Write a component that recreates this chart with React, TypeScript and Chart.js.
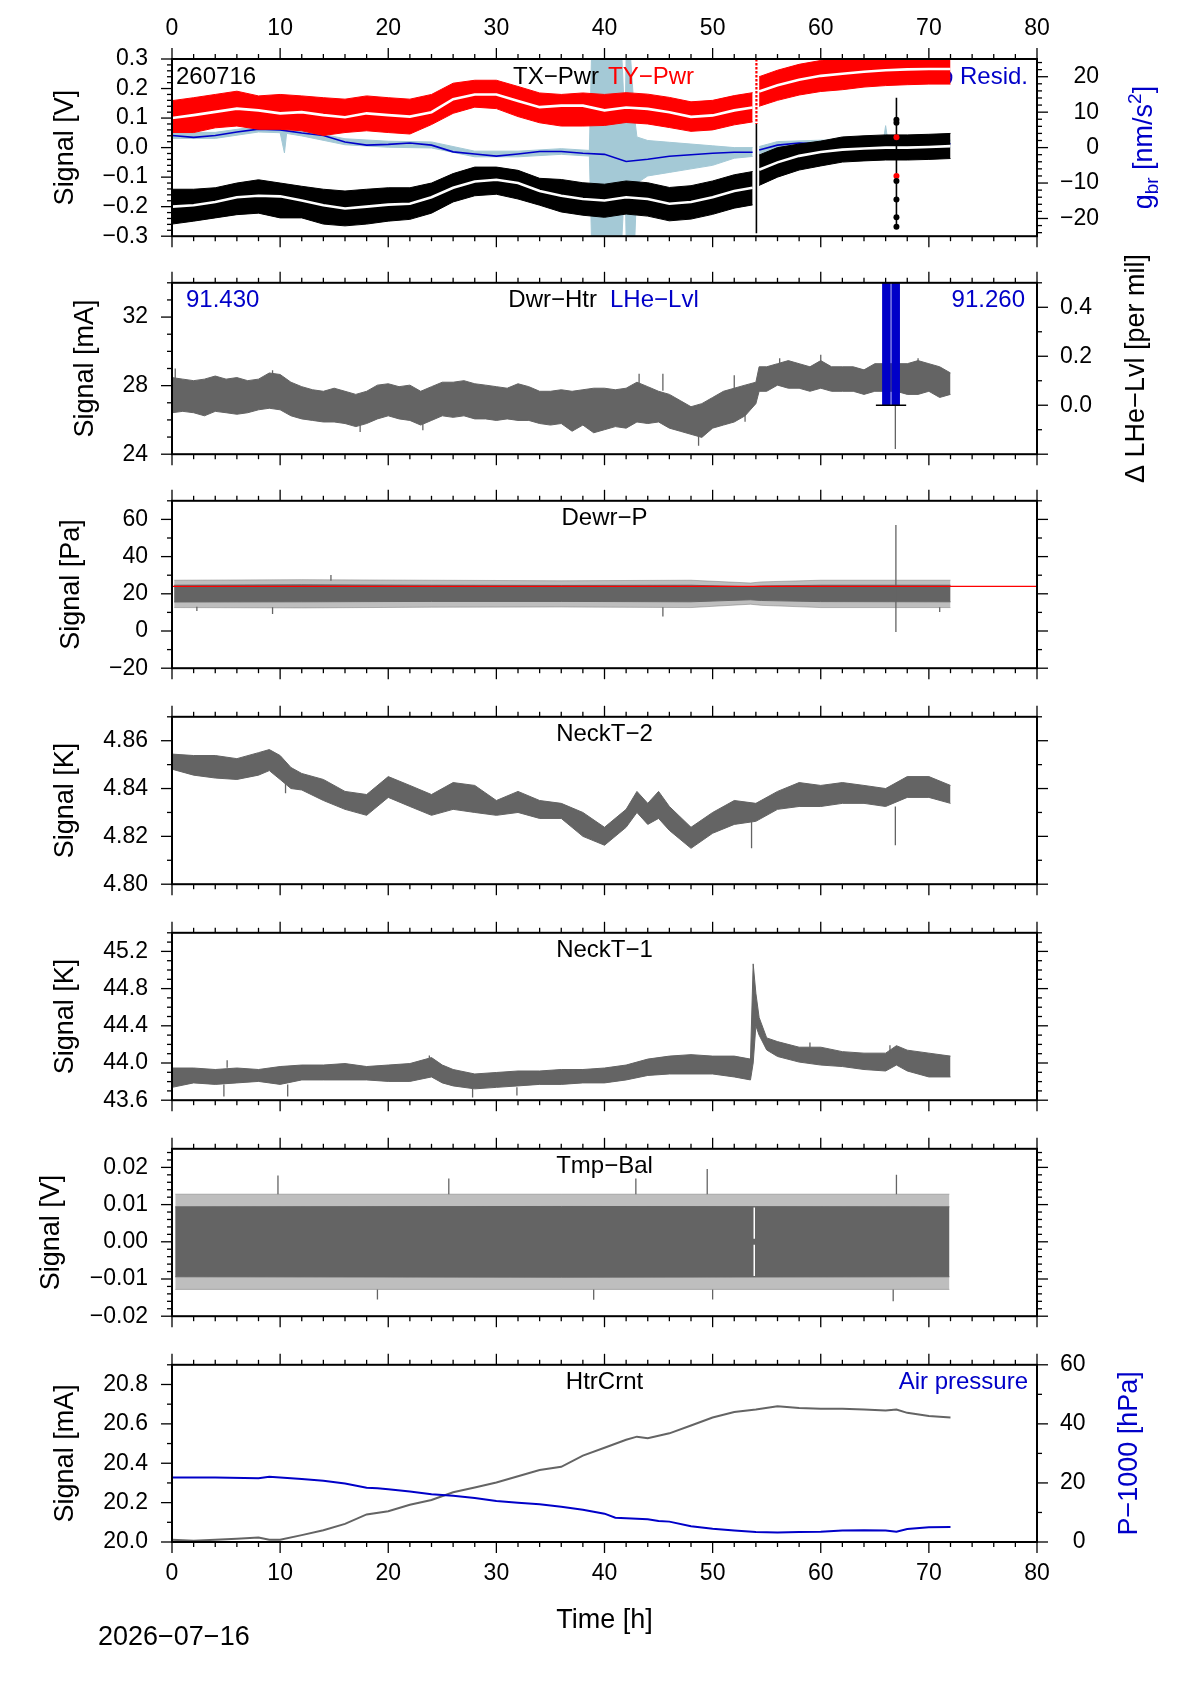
import React, { useEffect, useRef } from "react"
import Chart from "chart.js/auto"

const FONT = "'Liberation Sans', Arial, Helvetica, sans-serif"
Chart.defaults.font.family = FONT
Chart.defaults.color = "#000"

// page geometry (px)
const PAGE_W = 1190
const PAGE_H = 1684
const PLOT_L = 172
const PLOT_R = 1037
const PANEL_T0 = 59
const PANEL_STEP = 216
const PANEL_H = 187
const TICK_FONT = 23
const LABEL_FONT = 24
const TITLE_FONT = 27

const GRAY = "rgb(100,100,100)"
const GRAY_SOFT = "rgba(100,100,100,0.42)"
const BLUE = "rgb(0,0,200)"
const LIGHTBLUE = "rgb(164,201,214)"
const RED = "rgb(255,0,0)"
const MINUS = "\u2212"

// ---------- axis ticks ----------
const timeTicks = [0, 10, 20, 30, 40, 50, 60, 70, 80]
const p1LeftTicks = [-0.3, -0.2, -0.1, 0, 0.1, 0.2, 0.3]
const p1RightTicks = [-20, -10, 0, 10, 20]
const p2LeftTicks = [24, 28, 32]
const p2RightTicks = [0, 0.2, 0.4]
const p3Ticks = [-20, 0, 20, 40, 60]
const p4Ticks = [4.8, 4.82, 4.84, 4.86]
const p5Ticks = [43.6, 44.0, 44.4, 44.8, 45.2]
const p6Ticks = [-0.02, -0.01, 0, 0.01, 0.02]
const p7LeftTicks = [20.0, 20.2, 20.4, 20.6, 20.8]
const p7RightTicks = [0, 20, 40, 60]

// ---------- panel 1: TX-Pwr / TY-Pwr / baro residual ----------
const topT = [0, 2, 4, 6, 8, 10, 12, 14, 16, 18, 20, 22, 24, 26, 28, 30, 32, 34, 36, 38, 40, 42, 44, 46, 48, 50, 52, 53.7, 53.9, 54.3, 56, 58, 60, 62, 64, 66, 68, 70, 72]
const redHi = [0.159, 0.169, 0.18, 0.191, 0.175, 0.18, 0.175, 0.169, 0.164, 0.175, 0.169, 0.164, 0.18, 0.218, 0.228, 0.228, 0.207, 0.185, 0.18, 0.185, 0.18, 0.186, 0.181, 0.17, 0.155, 0.16, 0.176, 0.186, null, 0.24, 0.262, 0.282, 0.295, 0.31, 0.31, 0.31, 0.31, 0.31, 0.31]
const redLo = [0.051, 0.051, 0.067, 0.073, 0.062, 0.062, 0.057, 0.041, 0.051, 0.057, 0.051, 0.046, 0.078, 0.116, 0.137, 0.132, 0.105, 0.084, 0.073, 0.073, 0.075, 0.085, 0.08, 0.068, 0.055, 0.06, 0.077, 0.087, null, 0.14, 0.16, 0.178, 0.19, 0.196, 0.205, 0.21, 0.213, 0.215, 0.215]
const redMid = [0.1, 0.11, 0.121, 0.132, 0.126, 0.116, 0.12, 0.11, 0.103, 0.116, 0.11, 0.105, 0.12, 0.164, 0.18, 0.18, 0.158, 0.137, 0.142, 0.142, 0.126, 0.136, 0.131, 0.12, 0.104, 0.109, 0.126, 0.136, null, 0.19, 0.211, 0.23, 0.243, 0.25, 0.257, 0.262, 0.265, 0.266, 0.266]
const blackHi = [-0.141, -0.141, -0.136, -0.12, -0.109, -0.12, -0.131, -0.141, -0.147, -0.141, -0.136, -0.136, -0.12, -0.088, -0.066, -0.066, -0.077, -0.104, -0.108, -0.119, -0.124, -0.113, -0.119, -0.135, -0.129, -0.113, -0.092, -0.081, null, -0.025, 0.0, 0.012, 0.022, 0.036, 0.04, 0.043, 0.043, 0.045, 0.048]
const blackLo = [-0.259, -0.249, -0.238, -0.227, -0.222, -0.238, -0.238, -0.259, -0.265, -0.259, -0.249, -0.243, -0.222, -0.184, -0.163, -0.158, -0.174, -0.195, -0.218, -0.229, -0.236, -0.225, -0.232, -0.248, -0.242, -0.226, -0.205, -0.194, null, -0.128, -0.1, -0.076, -0.062, -0.049, -0.045, -0.042, -0.042, -0.04, -0.037]
const blackMid = [-0.2, -0.195, -0.184, -0.168, -0.163, -0.165, -0.179, -0.195, -0.206, -0.2, -0.193, -0.19, -0.168, -0.136, -0.115, -0.109, -0.12, -0.147, -0.163, -0.174, -0.179, -0.168, -0.174, -0.19, -0.184, -0.168, -0.147, -0.136, null, -0.075, -0.05, -0.028, -0.015, -0.007, -0.003, 0.0, 0.0, 0.002, 0.005]
const residMid = [3.4, 2.9, 3.4, 4.4, 5.2, 5.0, 4.1, 3.4, 1.6, 0.7, 0.9, 1.3, 0.7, -1.2, -1.8, -2.4, -1.8, -1.1, -1.1, -1.6, -1.9, -3.9, -3.3, -2.45, -2.0, -1.6, -1.3, -1.3, null, -0.7, 0.7, 1.3, 1.1, 1.1, 1.1, 1.1, 1.1, 1.1, 1.1]
const lbT = [0, 4, 8, 10, 10.4, 10.6, 11, 12, 16, 20, 24, 28, 32, 36, 38.6, 38.8, 41.6, 41.9, 42.0, 42.4, 42.8, 43, 44, 46, 48, 50, 52, 53.7, 53.9, 54.3, 56, 60, 65.8, 66, 66.2, 72]
const lbHi = [4.3, 4.3, 6.0, 5.8, 5.6, 5.6, 5.4, 5.0, 2.5, 1.8, 1.6, -1.0, -1.0, -0.3, -0.8, 26, 26, 6, 26, 26, 8, 3, 2, 1.5, 1, 0.5, 0, 0, null, 0.3, 1.7, 2.1, 2.1, 6.2, 2.1, 2.1]
const lbLo = [2.6, 2.6, 4.4, 4.2, -1.5, 4.0, 3.8, 3.3, 0.8, 0.1, -0.1, -2.6, -2.6, -1.9, -2.4, -26, -26, -8, -26, -26, -26, -10, -8, -7, -6, -5, -3, -2.5, null, -1.7, -0.3, 0.1, 0.1, 0.1, 0.1, 0.1]
const gapRedT = [54.05]
const gapRedFrom = [0.3]
const gapRedTo = [0.08]
const gapBlackT = [54.05, 67]
const gapBlackFrom = [0.08, 0.169]
const gapBlackTo = [-0.29, -0.268]
const topDotT = [67, 67, 67, 67, 67, 67]
const topDotBlack = [0.094, 0.084, -0.113, -0.176, -0.236, -0.268]
const topDotRedT = [67, 67]
const topDotRed = [0.035, -0.096]

// ---------- panel 2: Dwr-Htr / LHe-Lvl ----------
const dwrT = [0, 1, 2, 3, 4, 5, 6, 7, 8, 9, 10, 11, 12, 13, 14, 15, 16, 17, 18, 19, 20, 21, 22, 23, 24, 25, 26, 27, 28, 29, 30, 31, 32, 33, 34, 35, 36, 37, 38, 39, 40, 41, 42, 43, 44, 45, 46, 47, 48, 49, 50, 51, 52, 53, 54, 54.3, 55, 56, 57, 58, 59, 60, 61, 62, 63, 64, 65, 66, 67, 68, 69, 70, 71, 72]
const dwrHi = [28.47, 28.38, 28.29, 28.38, 28.56, 28.38, 28.47, 28.29, 28.38, 28.74, 28.65, 28.2, 27.94, 27.76, 27.67, 27.85, 27.67, 27.49, 27.67, 28.03, 28.11, 27.94, 28.03, 27.67, 27.94, 28.2, 28.2, 28.29, 28.11, 28.03, 27.94, 27.85, 28.11, 27.94, 27.67, 27.67, 27.76, 27.67, 27.76, 27.85, 27.85, 27.76, 27.85, 28.2, 27.94, 27.67, 27.49, 27.13, 26.77, 26.95, 27.31, 27.67, 27.85, 28.03, 28.2, 29.1, 29.1, 29.28, 29.46, 29.28, 29.1, 29.46, 29.1, 29.1, 29.1, 28.92, 29.28, 29.28, 29.28, 29.28, 29.46, 29.28, 29.1, 28.74]
const dwrLo = [26.42, 26.5, 26.42, 26.24, 26.5, 26.42, 26.33, 26.42, 26.59, 26.68, 26.59, 26.24, 26.06, 25.97, 25.88, 25.88, 25.79, 25.61, 25.79, 26.06, 26.24, 26.06, 25.97, 25.7, 25.97, 26.24, 26.15, 26.24, 26.06, 26.06, 25.97, 26.06, 25.97, 25.97, 25.79, 25.7, 25.79, 25.34, 25.7, 25.25, 25.43, 25.61, 25.52, 25.88, 25.79, 25.88, 25.52, 25.34, 25.16, 24.98, 25.52, 25.7, 25.88, 26.24, 26.95, 27.67, 27.67, 28.03, 27.85, 27.85, 27.67, 27.85, 27.67, 27.67, 27.67, 27.49, 27.67, 27.67, 27.67, 27.49, 27.49, 27.67, 27.31, 27.49]
const dwrSpT = [0.3, 9.3, 17.4, 23.2, 43.2, 45.4, 48.7, 52.0, 53.0, 56.2, 60.0, 66.9, 69.0]
const dwrSpFrom = [28.4, 28.6, 25.7, 25.8, 28.0, 27.7, 25.1, 27.8, 26.3, 29.2, 29.4, 27.7, 29.4]
const dwrSpTo = [29.0, 28.9, 25.3, 25.4, 28.7, 28.7, 24.5, 28.6, 25.9, 29.6, 29.8, 24.3, 29.6]
const lheBarT = [66.07, 66.93]
const lheBarV = [0.5, 0.5]
const lheBaseT = [65.1, 67.9]
const lheBaseV = [0, 0]

// ---------- panel 3: Dewr-P ----------
const dpT = [0.2, 12, 24, 36, 48, 53.5, 54.5, 60, 72]
const dpCoreHi = [24.6, 24.8, 24.6, 24.5, 24.6, 23.8, 24.2, 24.6, 24.6]
const dpCoreLo = [15.6, 15.7, 15.9, 15.9, 15.7, 16.8, 16.4, 15.8, 15.7]
const dpOutHi = [27.3, 27.6, 27.3, 27.0, 27.3, 25.8, 26.4, 27.3, 27.3]
const dpOutLo = [12.6, 12.4, 12.8, 12.9, 12.6, 14.4, 13.8, 12.6, 12.6]
const dpSpT = [2.3, 9.3, 14.7, 45.4, 66.95, 71.0]
const dpSpFrom = [13.0, 12.8, 27.0, 12.8, 57.0, 12.8]
const dpSpTo = [10.7, 9.1, 30.1, 7.8, -0.6, 10.2]
const dewrRefT = [0, 80]
const dewrRefV = [24.0, 24.0]

// ---------- panel 4: NeckT-2 ----------
const n2T = [0, 2, 4, 6, 8, 9, 10, 11, 12, 14, 16, 18, 20, 22, 24, 26, 28, 30, 32, 34, 36, 38, 40, 42, 43, 44, 45, 46, 48, 50, 52, 54, 56, 58, 60, 62, 64, 66, 68, 70, 72]
const n2Hi = [4.8544, 4.8538, 4.8538, 4.8525, 4.855, 4.8563, 4.8538, 4.8488, 4.8463, 4.8438, 4.8388, 4.8375, 4.845, 4.8413, 4.8375, 4.8425, 4.8413, 4.835, 4.8388, 4.835, 4.8338, 4.83, 4.8238, 4.8313, 4.8388, 4.8338, 4.8388, 4.8325, 4.8238, 4.83, 4.835, 4.8338, 4.8388, 4.8425, 4.8413, 4.8425, 4.8413, 4.84, 4.845, 4.845, 4.8413]
const n2Lo = [4.8481, 4.8456, 4.8444, 4.8438, 4.8456, 4.8475, 4.8438, 4.84, 4.8394, 4.835, 4.8313, 4.8288, 4.8363, 4.8325, 4.8288, 4.8313, 4.83, 4.8288, 4.83, 4.8275, 4.8275, 4.82, 4.8163, 4.8238, 4.83, 4.825, 4.8275, 4.8225, 4.815, 4.8213, 4.825, 4.8263, 4.8313, 4.8325, 4.8325, 4.8338, 4.8338, 4.8325, 4.8363, 4.8363, 4.8338]
const n2SpT = [10.5, 53.6, 66.9]
const n2SpFrom = [4.8438, 4.8263, 4.8325]
const n2SpTo = [4.838, 4.815, 4.8163]

// ---------- panel 5: NeckT-1 ----------
const n1T = [0, 2, 4, 6, 8, 10, 12, 14, 16, 18, 20, 22, 24, 25, 26, 28, 30, 32, 34, 36, 38, 40, 42, 44, 46, 48, 50, 52, 53.5, 53.75, 54.0, 54.3, 55, 56, 58, 60, 62, 64, 66, 67, 68, 70, 72]
const n1Hi = [43.946, 43.946, 43.93, 43.946, 43.93, 43.962, 43.978, 43.978, 43.994, 43.962, 43.978, 43.994, 44.058, 43.978, 43.93, 43.882, 43.898, 43.914, 43.914, 43.93, 43.93, 43.946, 43.978, 44.042, 44.074, 44.09, 44.074, 44.074, 44.042, 45.066, 44.75, 44.49, 44.27, 44.23, 44.17, 44.17, 44.122, 44.106, 44.106, 44.186, 44.138, 44.106, 44.074]
const n1Lo = [43.738, 43.786, 43.77, 43.786, 43.802, 43.77, 43.818, 43.818, 43.818, 43.818, 43.802, 43.802, 43.85, 43.786, 43.754, 43.722, 43.738, 43.754, 43.77, 43.77, 43.786, 43.786, 43.818, 43.866, 43.882, 43.882, 43.882, 43.85, 43.818, 44.0, 44.4, 44.3, 44.14, 44.07, 44.01, 43.978, 43.962, 43.93, 43.914, 43.978, 43.914, 43.85, 43.85]
const n1SpT = [4.8, 10.7, 27.8, 31.9, 5.1, 23.8, 59.0, 66.4]
const n1SpFrom = [43.77, 43.77, 43.72, 43.74, 43.95, 44.05, 44.17, 44.11]
const n1SpTo = [43.64, 43.64, 43.63, 43.65, 44.03, 44.08, 44.22, 44.19]

// ---------- panel 6: Tmp-Bal ----------
const tbT = [0.3, 36, 71.9]
const tbCoreHi = [0.0094, 0.0095, 0.0094]
const tbCoreLo = [-0.0094, -0.0095, -0.0094]
const tbOutHi = [0.0128, 0.0128, 0.0128]
const tbOutLo = [-0.0128, -0.0128, -0.0128]
const tbSpT = [9.8, 19.0, 25.6, 39.0, 42.9, 49.5, 50.0, 66.7, 67.0]
const tbSpFrom = [0.0128, -0.0128, 0.0128, -0.0128, 0.0128, 0.0128, -0.0128, -0.0128, 0.0128]
const tbSpTo = [0.0178, -0.0155, 0.017, -0.0156, 0.017, 0.0196, -0.0155, -0.016, 0.018]
const tbGapT = [53.85, 53.85]
const tbGapFrom = [0.0092, -0.0008]
const tbGapTo = [0.0008, -0.0092]

// ---------- panel 7: HtrCrnt / air pressure ----------
const htrT = [0, 2, 4, 6, 8, 9, 10, 12, 14, 16, 18, 20, 22, 24, 26, 28, 30, 32, 34, 36, 38, 40, 42, 43, 44, 46, 48, 50, 52, 54, 56, 58, 60, 62, 64, 66, 67, 68, 70, 72]
const htrV = [20.011, 20.006, 20.011, 20.016, 20.023, 20.011, 20.011, 20.035, 20.06, 20.092, 20.14, 20.156, 20.189, 20.213, 20.253, 20.277, 20.302, 20.334, 20.366, 20.382, 20.439, 20.479, 20.519, 20.535, 20.527, 20.552, 20.592, 20.632, 20.66, 20.673, 20.689, 20.681, 20.677, 20.677, 20.673, 20.668, 20.673, 20.656, 20.64, 20.632]
const apT = [0, 4, 8, 9, 10, 12, 14, 16, 18, 19, 20, 22, 24, 26, 28, 30, 32, 34, 36, 38, 40, 41, 42, 44, 45, 46, 48, 50, 52, 54, 56, 58, 60, 62, 64, 66, 67, 68, 70, 72]
const apV = [21.8, 21.8, 21.6, 22.1, 21.8, 21.3, 20.7, 19.8, 18.4, 18.2, 17.9, 17.1, 16.2, 15.7, 14.9, 13.9, 13.3, 12.8, 11.9, 10.9, 9.6, 8.2, 8.0, 7.7, 7.1, 6.9, 5.3, 4.5, 3.9, 3.4, 3.2, 3.4, 3.5, 3.9, 4.0, 3.9, 3.5, 4.4, 5.0, 5.1]

// ---------- helpers ----------
type V = number | null
const xy = (t: number[], v: V[]) => t.map((x, i) => ({ x, y: v[i] }))

function lineSet(t: number[], v: V[], color: string, width: number, yAxisID: string, order: number, extra: any = {}) {
  return {
    type: "line",
    data: xy(t, v),
    borderColor: color,
    borderWidth: width,
    pointRadius: 0,
    fill: false,
    spanGaps: false,
    tension: 0,
    xAxisID: "x",
    yAxisID,
    order,
    ...extra,
  }
}

// filled band between lo and hi, split where values are missing
function bandSets(t: number[], lo: V[], hi: V[], color: string, yAxisID: string, order: number) {
  const segs: number[][] = []
  let cur: number[] = []
  t.forEach((_, i) => {
    if (lo[i] === null || hi[i] === null) {
      if (cur.length) segs.push(cur)
      cur = []
    } else cur.push(i)
  })
  if (cur.length) segs.push(cur)
  return segs.flatMap((idx) => [
    lineSet(idx.map((i) => t[i]), idx.map((i) => lo[i]), color, 1, yAxisID, order),
    lineSet(idx.map((i) => t[i]), idx.map((i) => hi[i]), color, 1, yAxisID, order, { fill: "-1", backgroundColor: color }),
  ])
}

function spikeSet(t: number[], from: number[], to: number[], color: string, width: number, yAxisID: string, order: number, extra: any = {}) {
  const data = t.flatMap((x, i) => [{ x, y: from[i] }, { x, y: to[i] }, { x, y: null }])
  return { type: "line", data, borderColor: color, borderWidth: width, pointRadius: 0, fill: false, spanGaps: false, xAxisID: "x", yAxisID, order, ...extra }
}

function dotSet(t: number[], v: number[], color: string, radius: number, yAxisID: string, order: number) {
  return { type: "line", data: xy(t, v), showLine: false, pointRadius: radius, pointBackgroundColor: color, pointBorderWidth: 0, xAxisID: "x", yAxisID, order }
}

const minus = (s: string) => s.replace("-", MINUS)
const fmt = (d: number) => (v: number) => minus(Number(v).toFixed(d))

let measureCtx: CanvasRenderingContext2D | null = null
function widestLabel(labels: string[]) {
  if (!measureCtx) measureCtx = document.createElement("canvas").getContext("2d")
  const ctx = measureCtx as CanvasRenderingContext2D
  ctx.font = `${TICK_FONT}px ${FONT}`
  return Math.max(...labels.map((l) => ctx.measureText(l).width))
}

type Part = { text: string; color?: string; sub?: boolean; sup?: boolean }
type TextItem = { parts: Part[]; x: number; dy?: number; align: "left" | "right" | "center"; size?: number; color?: string }

function drawParts(ctx: CanvasRenderingContext2D, parts: Part[], size: number, x: number, yMid: number, align: string, color: string) {
  const fontFor = (p: Part) => `${p.sub || p.sup ? Math.round(size * 0.7) : size}px ${FONT}`
  const widths = parts.map((p) => {
    ctx.font = fontFor(p)
    return ctx.measureText(p.text).width
  })
  const total = widths.reduce((a, b) => a + b, 0)
  let cx = align === "left" ? x : align === "right" ? x - total : x - total / 2
  const base = yMid + size * 0.36
  ctx.textAlign = "left"
  ctx.textBaseline = "alphabetic"
  parts.forEach((p, i) => {
    ctx.font = fontFor(p)
    ctx.fillStyle = p.color || color
    const dy = p.sub ? size * 0.22 : p.sup ? -size * 0.4 : 0
    ctx.fillText(p.text, cx, base + dy)
    cx += widths[i]
  })
}

interface AxisSpec {
  min: number
  max: number
  ticks: number[]
  fmt: (v: number) => string
  minor: number
  major: number
  show: boolean
  title?: string
  titleX?: number
}

interface PanelSpec {
  index: number
  padTop: number
  padBottom: number
  y: AxisSpec
  y2: AxisSpec
  topLabels: boolean
  bottomLabels: boolean
  xTitle?: string
  texts: TextItem[]
  textOrder?: number // texts go under datasets with order <= this
  rightTitle?: { parts: Part[]; x: number; color: string }
  datasets: any[]
}

function xAxis(position: "top" | "bottom", show: boolean, size: number, title?: string) {
  return {
    type: "linear",
    axis: "x",
    position,
    min: 0,
    max: 80,
    offset: false,
    grid: { display: false, drawTicks: false },
    border: { display: false },
    ticks: {
      display: show,
      padding: position === "top" ? 17 : 18,
      font: { size: TICK_FONT },
      maxRotation: 0,
      autoSkip: false,
      callback: (v: number) => String(v),
    },
    afterBuildTicks: (s: any) => {
      s.ticks = timeTicks.map((value) => ({ value }))
    },
    afterFit: (s: any) => {
      s.height = size
    },
    title: title
      ? { display: true, text: title, font: { size: TITLE_FONT }, padding: { top: 0, bottom: 46.8 } }
      : { display: false },
  }
}

function yAxis(position: "left" | "right", a: AxisSpec, size: number) {
  return {
    type: "linear",
    axis: "y",
    position,
    min: a.min,
    max: a.max,
    grid: { display: false, drawTicks: false },
    border: { display: false },
    ticks: {
      display: a.show,
      padding: position === "left" ? 24 : 23,
      crossAlign: position === "left" ? "near" : "far",
      font: { size: TICK_FONT },
      autoSkip: false,
      callback: (v: number) => a.fmt(v),
    },
    afterBuildTicks: (s: any) => {
      s.ticks = a.ticks.map((value) => ({ value }))
    },
    afterFit: (s: any) => {
      s.width = size
    },
    title: a.title
      ? { display: true, text: a.title, font: { size: TITLE_FONT }, padding: { top: (a.titleX || 60) - TITLE_FONT * 0.6, bottom: 0 } }
      : { display: false },
  }
}

function makeConfig(p: PanelSpec): any {
  // right labels are right-aligned on the widest one, which starts 23px right of the frame
  const rightRoom = PAGE_W - PLOT_R
  const rightW = p.y2.show ? 23 + widestLabel(p.y2.ticks.map(p.y2.fmt)) : rightRoom

  const framePlugin = {
    id: "frame",
    afterDraw(chart: any) {
      const { ctx, chartArea: a } = chart
      const xs = chart.scales.x
      const yl = chart.scales.y
      const yr = chart.scales.y2
      ctx.save()
      ctx.strokeStyle = "#000"
      ctx.lineWidth = 1.3
      const seg = (x1: number, y1: number, x2: number, y2: number) => {
        ctx.beginPath()
        ctx.moveTo(x1, y1)
        ctx.lineTo(x2, y2)
        ctx.stroke()
      }
      const each = (min: number, max: number, minor: number, major: number, fn: (v: number, maj: boolean) => void) => {
        const k0 = Math.ceil(min / minor - 1e-6)
        const k1 = Math.floor(max / minor + 1e-6)
        for (let k = k0; k <= k1; k++) {
          const v = k * minor
          const r = v / major
          fn(v, Math.abs(r - Math.round(r)) < 1e-6)
        }
      }
      each(0, 80, 2, 10, (v, maj) => {
        const px = xs.getPixelForValue(v)
        const L = maj ? 11 : 5
        seg(px, a.top, px, a.top - L)
        seg(px, a.bottom, px, a.bottom + L)
      })
      each(p.y.min, p.y.max, p.y.minor, p.y.major, (v, maj) => {
        const py = yl.getPixelForValue(v)
        seg(a.left, py, a.left - (maj ? 11 : 5), py)
      })
      each(p.y2.min, p.y2.max, p.y2.minor, p.y2.major, (v, maj) => {
        const py = yr.getPixelForValue(v)
        seg(a.right, py, a.right + (maj ? 11 : 5), py)
      })
      ctx.lineWidth = 2
      ctx.strokeRect(a.left, a.top, a.right - a.left, a.bottom - a.top)
      if (p.rightTitle) {
        ctx.save()
        ctx.translate(p.rightTitle.x, a.top + (a.bottom - a.top) / 2)
        ctx.rotate(-Math.PI / 2)
        drawParts(ctx, p.rightTitle.parts, TITLE_FONT, 0, 0, "center", p.rightTitle.color)
        ctx.restore()
      }
      ctx.restore()
    },
  }

  let textsDone = false
  const drawTexts = (chart: any) => {
    const { ctx, chartArea: a } = chart
    ctx.save()
    p.texts.forEach((t) => drawParts(ctx, t.parts, t.size || LABEL_FONT, t.x, a.top + (t.dy ?? 16), t.align, t.color || "#000"))
    ctx.restore()
    textsDone = true
  }
  const textPlugin = {
    id: "texts",
    beforeDatasetsDraw(chart: any) {
      textsDone = false
      if (p.textOrder === undefined) drawTexts(chart)
    },
    beforeDatasetDraw(chart: any, args: any) {
      if (!textsDone && p.textOrder !== undefined && (args.meta.order ?? 0) <= p.textOrder) drawTexts(chart)
    },
    afterDatasetsDraw(chart: any) {
      if (!textsDone) drawTexts(chart)
    },
  }

  return {
    type: "line",
    data: { datasets: p.datasets },
    options: {
      animation: false,
      responsive: true,
      maintainAspectRatio: false,
      events: [],
      layout: { padding: { left: 0, top: 0, bottom: 0, right: rightRoom - rightW }, autoPadding: false },
      plugins: { legend: { display: false }, tooltip: { enabled: false }, title: { display: false } },
      scales: {
        x: xAxis("bottom", p.bottomLabels, p.padBottom, p.xTitle),
        xTop: xAxis("top", p.topLabels, p.padTop),
        y: yAxis("left", p.y, PLOT_L),
        y2: yAxis("right", p.y2, rightW),
      },
    },
    plugins: [framePlugin, textPlugin],
  }
}

const mirror = (a: AxisSpec): AxisSpec => ({ ...a, show: false, title: undefined })

const ax1: AxisSpec = { min: -0.3, max: 0.3, ticks: p1LeftTicks, fmt: fmt(1), minor: 0.02, major: 0.1, show: true, title: "Signal [V]", titleX: 66 }
const ax2: AxisSpec = { min: 24, max: 34, ticks: p2LeftTicks, fmt: fmt(0), minor: 1, major: 4, show: true, title: "Signal [mA]", titleX: 86 }
const ax3: AxisSpec = { min: -20, max: 70, ticks: p3Ticks, fmt: fmt(0), minor: 10, major: 20, show: true, title: "Signal [Pa]", titleX: 72 }
const ax4: AxisSpec = { min: 4.8, max: 4.87, ticks: p4Ticks, fmt: fmt(2), minor: 0.01, major: 0.02, show: true, title: "Signal [K]", titleX: 66 }
const ax5: AxisSpec = { min: 43.6, max: 45.4, ticks: p5Ticks, fmt: fmt(1), minor: 0.1, major: 0.4, show: true, title: "Signal [K]", titleX: 66 }
const ax6: AxisSpec = { min: -0.02, max: 0.025, ticks: p6Ticks, fmt: fmt(2), minor: 0.002, major: 0.01, show: true, title: "Signal [V]", titleX: 52 }
const ax7: AxisSpec = { min: 20.0, max: 20.9, ticks: p7LeftTicks, fmt: fmt(1), minor: 0.1, major: 0.2, show: true, title: "Signal [mA]", titleX: 66 }

const panels: PanelSpec[] = [
  {
    index: 0,
    padTop: PANEL_T0,
    padBottom: 28,
    y: ax1,
    y2: { min: -25, max: 25, ticks: p1RightTicks, fmt: fmt(0), minor: 2, major: 10, show: true },
    topLabels: true,
    bottomLabels: false,
    textOrder: 50,
    texts: [
      { parts: [{ text: "260716" }], x: 176, align: "left" },
      { parts: [{ text: "TX" + MINUS + "Pwr" }], x: 599, align: "right" },
      { parts: [{ text: "TY" + MINUS + "Pwr", color: RED }], x: 608, align: "left" },
      { parts: [{ text: "Baro Resid.", color: BLUE }], x: 1028, align: "right" },
    ],
    rightTitle: { parts: [{ text: "g" }, { text: "br", sub: true }, { text: " [nm/s" }, { text: "2", sup: true }, { text: "]" }], x: 1142, color: BLUE },
    datasets: [
      ...bandSets(lbT, lbLo, lbHi, LIGHTBLUE, "y2", 60),
      lineSet(topT, residMid, BLUE, 1.6, "y2", 50),
      ...bandSets(topT, redLo, redHi, RED, "y", 40),
      lineSet(topT, redMid, "#fff", 2.6, "y", 35),
      ...bandSets(topT, blackLo, blackHi, "#000", "y", 30),
      lineSet(topT, blackMid, "#fff", 2.6, "y", 25),
      spikeSet(gapRedT, gapRedFrom, gapRedTo, RED, 2.2, "y", 12, { borderDash: [2.5, 1.5] }),
      spikeSet(gapBlackT, gapBlackFrom, gapBlackTo, "#000", 1.6, "y", 10),
      dotSet(topDotT, topDotBlack, "#000", 3, "y", 5),
      dotSet(topDotRedT, topDotRed, RED, 3, "y", 5),
    ],
  },
  {
    index: 1,
    padTop: 30,
    padBottom: 30,
    y: ax2,
    y2: { min: -0.2, max: 0.5, ticks: p2RightTicks, fmt: fmt(1), minor: 0.1, major: 0.2, show: true },
    topLabels: false,
    bottomLabels: false,
    texts: [
      { parts: [{ text: "91.430" }], x: 186, align: "left", color: BLUE },
      { parts: [{ text: "Dwr" + MINUS + "Htr" }], x: 597, align: "right" },
      { parts: [{ text: "LHe" + MINUS + "Lvl" }], x: 610, align: "left", color: BLUE },
      { parts: [{ text: "91.260" }], x: 1025, align: "right", color: BLUE },
    ],
    rightTitle: { parts: [{ text: "\u0394 LHe" + MINUS + "Lvl [per mil]" }], x: 1134, color: "#000" },
    datasets: [
      ...bandSets(dwrT, dwrLo, dwrHi, GRAY, "y", 30),
      spikeSet(dwrSpT, dwrSpFrom, dwrSpTo, GRAY, 1.3, "y", 25),
      {
        type: "bar",
        data: xy(lheBarT, lheBarV),
        backgroundColor: BLUE,
        borderWidth: 0,
        barPercentage: 0.92,
        categoryPercentage: 1,
        xAxisID: "x",
        yAxisID: "y2",
        order: 10,
      },
      lineSet(lheBaseT, lheBaseV, "#000", 1.5, "y2", 5),
    ],
  },
  {
    index: 2,
    padTop: 28,
    padBottom: 28,
    y: ax3,
    y2: mirror(ax3),
    topLabels: false,
    bottomLabels: false,
    texts: [{ parts: [{ text: "Dewr" + MINUS + "P" }], x: 604.5, align: "center" }],
    datasets: [
      ...bandSets(dpT, dpOutLo, dpOutHi, GRAY_SOFT, "y", 30),
      ...bandSets(dpT, dpCoreLo, dpCoreHi, GRAY, "y", 20),
      spikeSet(dpSpT, dpSpFrom, dpSpTo, GRAY, 1.3, "y", 10),
      lineSet(dewrRefT, dewrRefV, RED, 1.2, "y", 5),
    ],
  },
  {
    index: 3,
    padTop: 28,
    padBottom: 28,
    y: ax4,
    y2: mirror(ax4),
    topLabels: false,
    bottomLabels: false,
    texts: [{ parts: [{ text: "NeckT" + MINUS + "2" }], x: 604.5, align: "center" }],
    datasets: [...bandSets(n2T, n2Lo, n2Hi, GRAY, "y", 20), spikeSet(n2SpT, n2SpFrom, n2SpTo, GRAY, 1.3, "y", 10)],
  },
  {
    index: 4,
    padTop: 28,
    padBottom: 28,
    y: ax5,
    y2: mirror(ax5),
    topLabels: false,
    bottomLabels: false,
    texts: [{ parts: [{ text: "NeckT" + MINUS + "1" }], x: 604.5, align: "center" }],
    datasets: [...bandSets(n1T, n1Lo, n1Hi, GRAY, "y", 20), spikeSet(n1SpT, n1SpFrom, n1SpTo, GRAY, 1.3, "y", 10)],
  },
  {
    index: 5,
    padTop: 28,
    padBottom: 28,
    y: ax6,
    y2: mirror(ax6),
    topLabels: false,
    bottomLabels: false,
    texts: [{ parts: [{ text: "Tmp" + MINUS + "Bal" }], x: 604.5, align: "center" }],
    datasets: [
      ...bandSets(tbT, tbOutLo, tbOutHi, GRAY_SOFT, "y", 30),
      ...bandSets(tbT, tbCoreLo, tbCoreHi, GRAY, "y", 20),
      spikeSet(tbSpT, tbSpFrom, tbSpTo, GRAY, 1.3, "y", 15),
      spikeSet(tbGapT, tbGapFrom, tbGapTo, "#fff", 1.5, "y", 5),
    ],
  },
  {
    index: 6,
    padTop: 28,
    padBottom: PAGE_H - (PANEL_T0 + 6 * PANEL_STEP + PANEL_H),
    y: ax7,
    y2: { min: 0, max: 60, ticks: p7RightTicks, fmt: fmt(0), minor: 10, major: 20, show: true },
    topLabels: false,
    bottomLabels: true,
    xTitle: "Time [h]",
    texts: [
      { parts: [{ text: "HtrCrnt" }], x: 604.5, align: "center" },
      { parts: [{ text: "Air pressure" }], x: 1028, align: "right", color: BLUE },
      { parts: [{ text: "2026" + MINUS + "07" + MINUS + "16" }], x: 98, dy: 270, align: "left", size: TITLE_FONT },
    ],
    rightTitle: { parts: [{ text: "P" + MINUS + "1000 [hPa]" }], x: 1127, color: BLUE },
    datasets: [lineSet(htrT, htrV, GRAY, 2, "y", 20), lineSet(apT, apV, BLUE, 2, "y2", 10)],
  },
]

function PanelChart({ spec }: { spec: PanelSpec }) {
  const canvasRef = useRef<HTMLCanvasElement | null>(null)
  useEffect(() => {
    if (!canvasRef.current) return
    const chart = new Chart(canvasRef.current, makeConfig(spec))
    return () => chart.destroy()
  }, [spec])
  const top = PANEL_T0 + spec.index * PANEL_STEP - spec.padTop
  const height = spec.padTop + PANEL_H + spec.padBottom
  return (
    <div style={{ position: "absolute", left: 0, top, width: PAGE_W, height }}>
      <canvas ref={canvasRef} />
    </div>
  )
}

export default function App() {
  return (
    <div style={{ position: "absolute", left: 0, top: 0, width: PAGE_W, height: PAGE_H, background: "#fff", overflow: "hidden" }}>
      {panels.map((p) => (
        <PanelChart key={p.index} spec={p} />
      ))}
    </div>
  )
}
